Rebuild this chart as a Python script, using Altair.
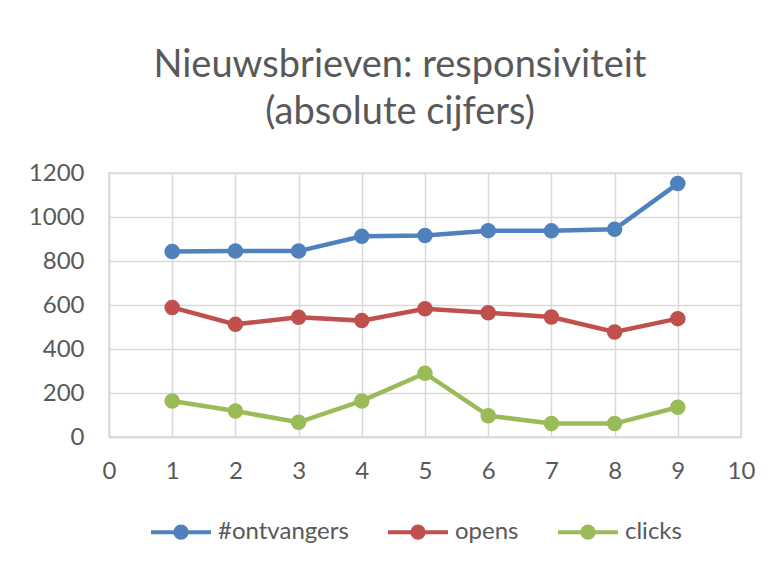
import altair as alt
import pandas as pd

x_vals = [1, 2, 3, 4, 5, 6, 7, 8, 9]
ontvangers = [843, 845, 845, 912, 916, 938, 937, 944, 1152]
opens = [589, 512, 544, 529, 583, 565, 545, 477, 538]
clicks = [164, 118, 67, 164, 290, 97, 61, 61, 135]
series_names = ["#ontvangers", "opens", "clicks"]
series_colors = ["#4F81BD", "#C0504D", "#9BBB59"]
x_ticks = [0, 1, 2, 3, 4, 5, 6, 7, 8, 9, 10]
y_ticks = [0, 200, 400, 600, 800, 1000, 1200]

rows = []
for name, vals in zip(series_names, [ontvangers, opens, clicks]):
    for xv, yv in zip(x_vals, vals):
        rows.append({"x": xv, "value": yv, "serie": name})
df = pd.DataFrame(rows)

FONT = "Lato"
TXT = "#595959"
GRID = "#D9D9D9"

legend_symbol = "M-1,0H-0.19A0.19,0.19 0 1,1 0.19,0A0.19,0.19 0 1,1 -0.19,0M0.19,0H1"

color = alt.Color(
    "serie:N",
    scale=alt.Scale(domain=series_names, range=series_colors),
    sort=series_names,
    legend=alt.Legend(
        title=None,
        orient="none",
        direction="horizontal",
        legendX=40,
        legendY=327,
        symbolType=legend_symbol,
        symbolSize=3600,
        symbolStrokeWidth=4,
        symbolOpacity=1,
        labelFont=FONT,
        labelFontSize=24,
        labelColor=TXT,
        labelOffset=5,
        columnPadding=31,
        padding=0,
    ),
)

base = alt.Chart(df).encode(
    x=alt.X(
        "x:Q",
        scale=alt.Scale(domain=[0, 10], nice=False),
        axis=alt.Axis(
            title=None,
            values=x_ticks,
            grid=True,
            gridColor=GRID,
            gridWidth=1.5,
            domainColor=GRID,
            domainWidth=1.5,
            ticks=False,
            labelFont=FONT,
            labelFontSize=24,
            labelColor=TXT,
            labelPadding=22,
            labelFlush=False,
        ),
    ),
    y=alt.Y(
        "value:Q",
        scale=alt.Scale(domain=[0, 1200], nice=False),
        axis=alt.Axis(
            title=None,
            values=y_ticks,
            format="d",
            grid=True,
            gridColor=GRID,
            gridWidth=1.5,
            domainColor=GRID,
            domainWidth=1.5,
            ticks=False,
            labelFont=FONT,
            labelFontSize=24,
            labelColor=TXT,
            labelPadding=25,
            labelFlush=False,
        ),
    ),
    color=color,
    order="x:Q",
)

lines = base.mark_line(strokeWidth=4.5)
points = base.mark_circle(size=240, opacity=1)

chart = (
    alt.layer(lines, points)
    .properties(
        width=632,
        height=264,
        autosize=alt.AutoSizeParams(type="none"),
        padding={"left": 101, "top": 165, "right": 30, "bottom": 124},
        background="white",
        title=alt.TitleParams(
            text=["Nieuwsbrieven: responsiviteit", "(absolute cijfers)"],
            font=FONT,
            fontSize=38,
            fontWeight="normal",
            color=TXT,
            lineHeight=47,
            anchor="middle",
            dx=-25,
            offset=29,
        ),
    )
    .configure_view(stroke=GRID, strokeWidth=1.5)
)

chart.save("out.html", embed_options={"renderer": "svg", "actions": False})
